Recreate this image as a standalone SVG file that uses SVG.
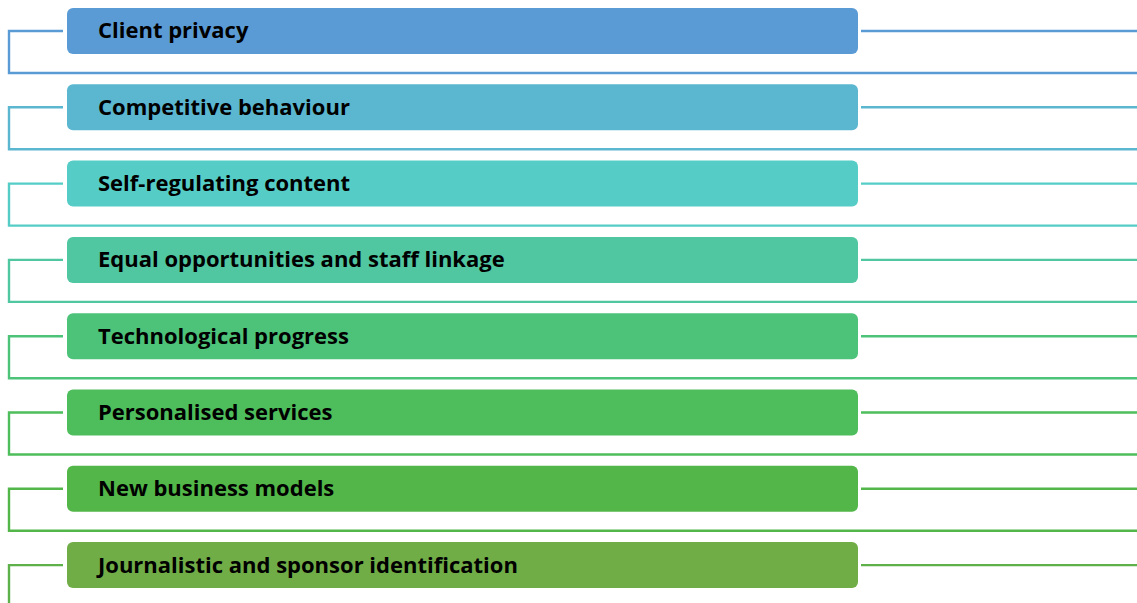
<svg xmlns="http://www.w3.org/2000/svg" width="1137" height="603" viewBox="0 0 1137 603">
  <style>
    .box { stroke: none; }
    .label { font-family: "Open Sans", "Liberation Sans", sans-serif; font-weight: 700; font-size: 22px; fill: #000000; }
    .wire { fill: none; stroke-width: 2.4; }
  </style>
  <rect width="1137" height="603" fill="#ffffff"/>

  <!-- connectors: left bracket, bottom rule and right tail for each row -->
  <g id="connectors">
    <path class="wire" stroke="#5B9BD5" d="M63 31 H9 V73 H1137 M861 31 H1137"/>
    <path class="wire" stroke="#5BB6D0" d="M63 107.3 H9 V149.3 H1137 M861 107.3 H1137"/>
    <path class="wire" stroke="#55CDC6" d="M63 183.6 H9 V225.6 H1137 M861 183.6 H1137"/>
    <path class="wire" stroke="#50C7A0" d="M63 259.9 H9 V301.9 H1137 M861 259.9 H1137"/>
    <path class="wire" stroke="#4DC37A" d="M63 336.2 H9 V378.2 H1137 M861 336.2 H1137"/>
    <path class="wire" stroke="#4EBE5C" d="M63 412.5 H9 V454.5 H1137 M861 412.5 H1137"/>
    <path class="wire" stroke="#52B748" d="M63 488.8 H9 V530.8 H1137 M861 488.8 H1137"/>
    <path class="wire" stroke="#5DB04A" d="M63 565.1 H9 V603 M861 565.1 H1137"/>
  </g>

  <g id="node-1">
    <rect class="box" x="67" y="8" width="791" height="46" rx="6" fill="#5B9BD5"/>
    <text class="label" x="98" y="38.4">Client privacy</text>
  </g>
  <g id="node-2">
    <rect class="box" x="67" y="84.3" width="791" height="46" rx="6" fill="#5BB6D0"/>
    <text class="label" x="98" y="114.7">Competitive behaviour</text>
  </g>
  <g id="node-3">
    <rect class="box" x="67" y="160.6" width="791" height="46" rx="6" fill="#55CDC6"/>
    <text class="label" x="98" y="191">Self-regulating content</text>
  </g>
  <g id="node-4">
    <rect class="box" x="67" y="236.9" width="791" height="46" rx="6" fill="#50C7A0"/>
    <text class="label" x="98" y="267.3">Equal opportunities and staff linkage</text>
  </g>
  <g id="node-5">
    <rect class="box" x="67" y="313.2" width="791" height="46" rx="6" fill="#4DC37A"/>
    <text class="label" x="98" y="343.6">Technological progress</text>
  </g>
  <g id="node-6">
    <rect class="box" x="67" y="389.5" width="791" height="46" rx="6" fill="#4EBE5C"/>
    <text class="label" x="98" y="419.9">Personalised services</text>
  </g>
  <g id="node-7">
    <rect class="box" x="67" y="465.8" width="791" height="46" rx="6" fill="#52B748"/>
    <text class="label" x="98" y="496.2">New business models</text>
  </g>
  <g id="node-8">
    <rect class="box" x="67" y="542.1" width="791" height="46" rx="6" fill="#70AD47"/>
    <text class="label" x="98" y="572.5">Journalistic and sponsor identification</text>
  </g>
</svg>
